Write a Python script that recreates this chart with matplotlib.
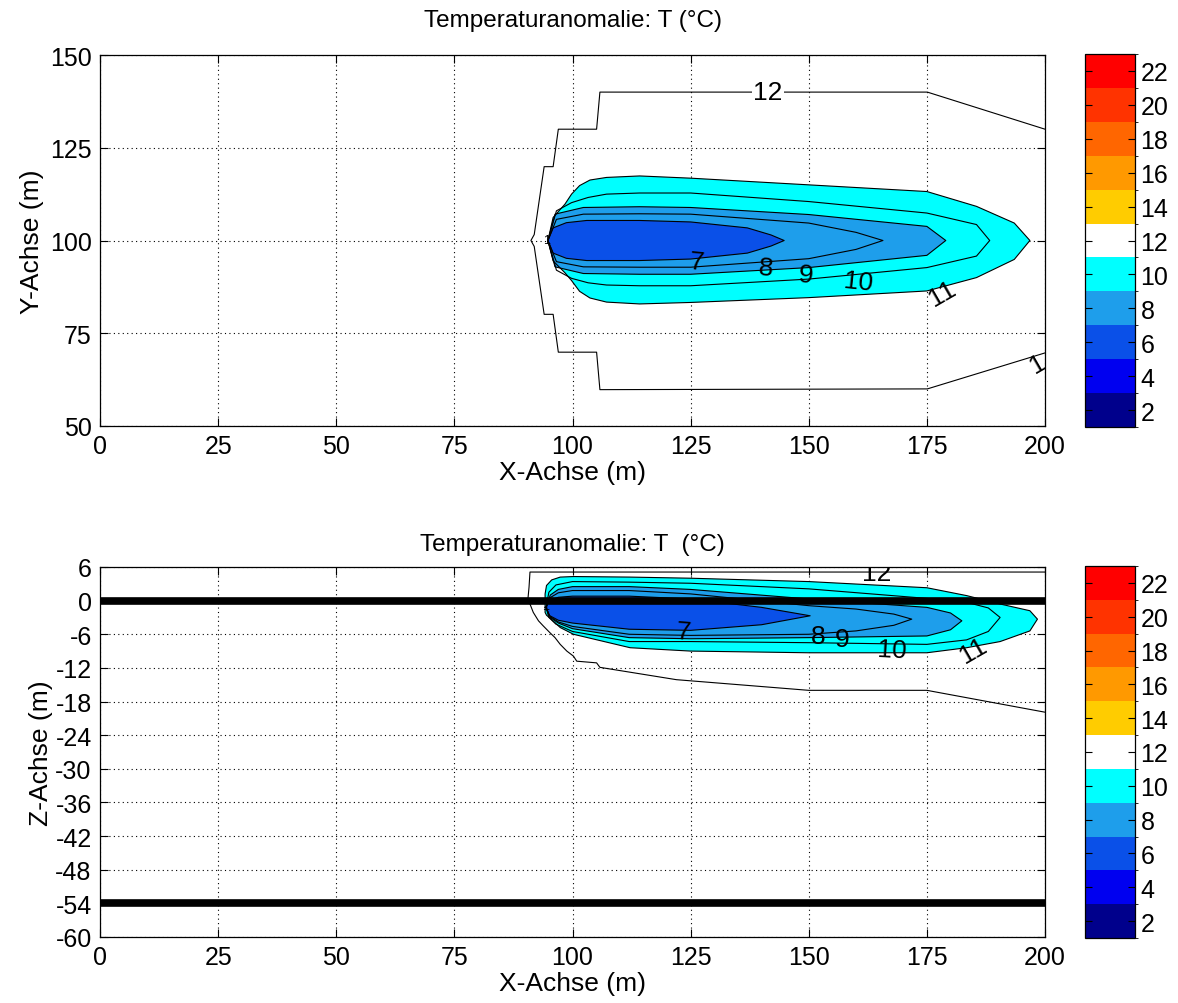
import matplotlib
matplotlib.use('Agg')
import matplotlib.pyplot as plt
from matplotlib.colors import ListedColormap, BoundaryNorm
import matplotlib.cm as cm

plt.rcParams['font.family'] = ['Liberation Sans', 'DejaVu Sans']
plt.rcParams['axes.unicode_minus'] = False

# ---------------- colour scale ----------------
cbar_bounds = [1, 3, 5, 7, 9, 11, 13, 15, 17, 19, 21, 23]
cbar_ticks = [2, 4, 6, 8, 10, 12, 14, 16, 18, 20, 22]
band_colors = ['#00008C', '#0000F0', '#0A50E8', '#1E9EEB', '#00FFFF', '#FFFFFF',
               '#FFCC00', '#FF9900', '#FF6600', '#FF3300', '#FF0000']

# ---------------- top plot (x-y plane) ----------------
xy_x11 = [94.8, 95.9, 98.4, 99.8, 101.5, 103.7, 107.2, 114.2, 125, 150, 175, 185.5, 193.5, 196.8]
xy_u11 = [100, 106.2, 109.8, 112.5, 114.8, 116.3, 117.0, 117.4, 116.8, 115.0, 113.2, 109.2, 104.7, 100]
xy_l11 = [100, 94.5, 91.3, 89.2, 86.3, 84.5, 83.4, 82.9, 83.3, 84.6, 86.4, 90.0, 94.9, 100]

xy_x10 = [94.8, 96.6, 99.8, 103.3, 107.2, 114.2, 125, 150, 175, 185.5, 188.3]
xy_u10 = [100, 108.0, 110.2, 111.6, 112.5, 112.8, 112.8, 110.5, 107.4, 104.3, 100]
xy_l10 = [100, 92.0, 89.8, 88.6, 88.0, 87.8, 87.8, 89.6, 92.7, 95.8, 100]

xy_x9 = [94.8, 96.3, 102.3, 114.2, 125, 150, 175, 179]
xy_u9 = [100, 107.1, 108.9, 109.1, 108.9, 107.0, 103.8, 100]
xy_l9 = [100, 92.9, 91.1, 90.9, 90.9, 92.7, 96.0, 100]

xy_x8 = [94.8, 96.6, 102.3, 114.2, 125, 150, 160, 165.7]
xy_u8 = [100, 105.7, 107.1, 107.2, 107.1, 104.7, 102.2, 100]
xy_l8 = [100, 94.3, 92.9, 92.8, 92.8, 95.1, 97.6, 100]

xy_x7 = [94.8, 95.9, 98.7, 103, 114.2, 125, 137, 142, 144.8]
xy_u7 = [100, 103.4, 104.8, 105.4, 105.4, 105.0, 103.4, 101.5, 100]
xy_l7 = [100, 96.6, 95.2, 94.6, 94.6, 95.0, 96.6, 98.5, 100]

xy_x12 = [200, 175.1, 105.8, 105.1, 97.0, 95.9, 94.0, 91.9, 91.2, 91.9, 94.0, 95.9, 97.0, 105.1, 105.8, 175.1, 200]
xy_y12 = [130, 140, 140, 130, 130, 119.9, 119.9, 101.6, 100, 98.4, 80.1, 80.1, 69.9, 69.9, 59.8, 60, 69.7]

xy_lab_text = ['7', '8', '9', '10', '11', '12', '1', '1']
xy_lab_x = [126.3, 141.0, 149.4, 160.4, 178.3, 141.4, 94.6, 198.5]
xy_lab_y = [94.4, 92.8, 90.8, 89.0, 85.8, 140.0, 100.0, 67.0]
xy_lab_rot = [-5, -5, -5, -6, 30, 0, 0, 30]

# ---------------- bottom plot (x-z plane) ----------------
xz_x11 = [94.2, 94.2, 94.5, 95.6, 97.4, 100.2, 112.2, 125, 150, 175, 183.4, 190.5, 196.8, 198.4]
xz_u11 = [-1.2, 1.2, 2.7, 3.7, 4.2, 4.3, 4.2, 4.0, 3.4, 2.3, 0.9, -0.6, -1.8, -3.3]
xz_l11 = [-1.2, -2.1, -2.6, -3.4, -4.8, -6.0, -8.4, -9.0, -9.3, -9.3, -8.4, -7.3, -5.4, -3.3]

xz_x10 = [94.4, 95.0, 96.5, 100, 112, 125, 150, 175, 183.4, 188, 190.5]
xz_u10 = [-1.2, 1.5, 2.8, 3.4, 3.3, 3.1, 2.1, 0.4, -0.3, -1.3, -3.0]
xz_l10 = [-1.2, -3.0, -4.2, -5.5, -7.3, -7.3, -7.5, -7.8, -7.0, -5.5, -3.0]

xz_x9 = [94.4, 95.3, 97, 100, 112, 125, 150, 175, 180, 182.4]
xz_u9 = [-1.2, 1.0, 2.0, 2.5, 2.5, 2.0, 0.3, -1.2, -2.2, -3.6]
xz_l9 = [-1.2, -3.0, -4.0, -5.0, -6.6, -6.8, -6.6, -6.3, -5.2, -3.6]

xz_x8 = [94.4, 95.2, 97, 100, 112, 125, 150, 160, 168, 171.8]
xz_u8 = [-1.2, 0.5, 1.4, 1.8, 1.8, 1.2, -0.9, -1.5, -2.4, -3.3]
xz_l8 = [-1.2, -2.8, -3.8, -4.6, -6.0, -6.2, -6.0, -5.4, -4.4, -3.3]

xz_x7 = [94.4, 95.0, 97, 100, 112, 125, 140, 150.3]
xz_u7 = [-1.2, 0.0, 0.6, 0.8, 0.8, 0.3, -1.2, -2.7]
xz_l7 = [-1.2, -2.6, -3.5, -4.0, -5.1, -5.3, -4.3, -2.7]

xz_x12 = [200, 91.0, 90.8, 90.5, 91.0, 91.7, 92.8, 93.8, 95.2, 96.3, 97.4, 98.8, 100.2, 100.9,
          105.1, 105.8, 122.0, 150, 175, 200]
xz_z12 = [5.1, 5.1, 2.4, -0.3, -0.6, -2.1, -3.6, -4.5, -5.7, -6.6, -7.8, -9.0, -9.9, -10.8,
          -11.1, -11.9, -14.1, -16.0, -16.0, -19.9]

xz_lab_text = ['7', '8', '9', '10', '11', '12', '1']
xz_lab_x = [123.4, 152.0, 157.0, 167.6, 184.8, 164.4, 94.4]
xz_lab_z = [-5.6, -6.3, -6.9, -8.7, -8.9, 4.9, -0.9]
xz_lab_rot = [-4, 0, 0, -3, 30, 0, 0]

layer_lines = [0, -54]

x_ticks = [0, 25, 50, 75, 100, 125, 150, 175, 200]
y_ticks = [50, 75, 100, 125, 150]
z_ticks = [-60, -54, -48, -42, -36, -30, -24, -18, -12, -6, 0, 6]

TICK_FS = 18
LABEL_FS = 19
TITLE_FS = 17.5
CLAB_FS = 19

# ---------------- figure ----------------
fig = plt.figure(figsize=(11.78, 10.04), dpi=100)
ax1 = fig.add_axes([100/1178, 1-427/1004, 945/1178, 371/1004])
ax2 = fig.add_axes([100/1178, 1-938/1004, 945/1178, 370/1004])
cax1 = fig.add_axes([1085/1178, 1-428/1004, 50/1178, 373/1004])
cax2 = fig.add_axes([1085/1178, 1-939/1004, 50/1178, 372/1004])

cmap = ListedColormap(band_colors)
norm = BoundaryNorm(cbar_bounds, cmap.N)


def outline(xs, up, lo):
    px = list(xs) + list(xs[::-1])
    py = list(up) + list(lo[::-1])
    return px, py


def draw_plume(ax, data, lw=0.8):
    for lev, col in zip([11, 9, 7], [band_colors[4], band_colors[3], band_colors[2]]):
        px, py = outline(*data[lev])
        ax.fill(px, py, color=col, lw=0, zorder=2)
    for lev in [11, 10, 9, 8, 7]:
        px, py = outline(*data[lev])
        ax.plot(px + [px[0]], py + [py[0]], color='black', lw=lw, zorder=3)


def style_axes(ax, yt):
    ax.set_xlim(0, 200)
    ax.set_xticks(x_ticks)
    ax.set_yticks(yt)
    ax.tick_params(direction='in', top=True, right=True, length=6, width=0.8,
                   labelsize=TICK_FS, pad=6)
    ax.grid(True, color='black', linestyle=(0, (1, 3)), linewidth=0.8)
    ax.set_axisbelow(True)
    for s in ax.spines.values():
        s.set_linewidth(0.9)
    ax.set_xlabel('X-Achse (m)', fontsize=LABEL_FS, labelpad=1)


# top plot
data_xy = {11: (xy_x11, xy_u11, xy_l11), 10: (xy_x10, xy_u10, xy_l10),
           9: (xy_x9, xy_u9, xy_l9), 8: (xy_x8, xy_u8, xy_l8), 7: (xy_x7, xy_u7, xy_l7)}
draw_plume(ax1, data_xy)
ax1.plot(xy_x12, xy_y12, color='black', lw=0.8, zorder=3)
ax1.set_ylim(50, 150)
style_axes(ax1, y_ticks)
ax1.set_ylabel('Y-Achse (m)', fontsize=LABEL_FS, labelpad=4)
ax1.set_title('Temperaturanomalie: T (°C)', fontsize=TITLE_FS, pad=21)
for t, x, y, r in zip(xy_lab_text, xy_lab_x, xy_lab_y, xy_lab_rot):
    kw = {}
    if t == '12':
        kw = dict(bbox=dict(facecolor='white', edgecolor='none', pad=1))
    fs = 9 if (t == '1' and x < 150) else CLAB_FS
    ax1.text(x, y, t, fontsize=fs, rotation=r,
             ha='center', va='center', zorder=4, clip_on=True, **kw)

# bottom plot
data_xz = {11: (xz_x11, xz_u11, xz_l11), 10: (xz_x10, xz_u10, xz_l10),
           9: (xz_x9, xz_u9, xz_l9), 8: (xz_x8, xz_u8, xz_l8), 7: (xz_x7, xz_u7, xz_l7)}
draw_plume(ax2, data_xz)
ax2.plot(xz_x12, xz_z12, color='black', lw=0.8, zorder=3)
for zl in layer_lines:
    ax2.axhline(zl, color='black', lw=5.5, zorder=5)
ax2.set_ylim(-60, 6)
style_axes(ax2, z_ticks)
ax2.set_ylabel('Z-Achse (m)', fontsize=LABEL_FS, labelpad=2)
ax2.set_title('Temperaturanomalie: T  (°C)', fontsize=TITLE_FS, pad=12)
for t, x, z, r in zip(xz_lab_text, xz_lab_x, xz_lab_z, xz_lab_rot):
    fs = 9 if t == '1' else CLAB_FS
    ax2.text(x, z, t, fontsize=fs, rotation=r,
             ha='center', va='center', zorder=4, clip_on=True)

# colour bars
for cax in (cax1, cax2):
    sm = cm.ScalarMappable(cmap=cmap, norm=norm)
    cb = fig.colorbar(sm, cax=cax, boundaries=cbar_bounds, ticks=cbar_ticks)
    cb.outline.set_linewidth(0.9)
    cax.tick_params(direction='in', left=True, right=True, length=5, width=0.8,
                    labelsize=TICK_FS, pad=4)

fig.savefig('out.png', dpi=100)
